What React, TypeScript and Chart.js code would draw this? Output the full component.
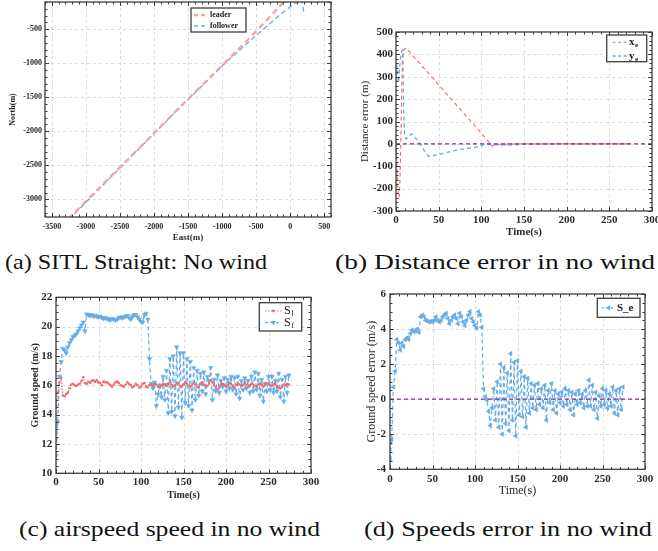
import React, { useEffect, useLayoutEffect, useRef, useState } from 'react';
import { Chart, registerables } from 'chart.js';

Chart.register(...registerables);
const SERIF = '"Liberation Serif", "Times New Roman", Tinos, Times, "Nimbus Roman", "Nimbus Roman No9 L", serif';
Chart.defaults.font.family = SERIF;
Chart.defaults.color = '#2a2a2a';

// ---------------- (a) SITL straight trajectory ----------------
const leaderEast = [-3260, -3000, -2500, -2000, -1500, -1000, -579, -300, -136, -80];
const leaderNorth = [-3290, -3030, -2530, -2030, -1525, -1035, -613, -320, -147, -60];
const followerEast = [200, 185, 165, 130, 60, 0, -150, -300, -579, -1000, -1500, -2000, -2500, -3000, -3280];
const followerNorth = [-240, -150, -60, -90, -130, -170, -290, -420, -662, -1040, -1535, -2035, -2540, -3045, -3330];
const eastTicks = [-3500, -3000, -2500, -2000, -1500, -1000, -500, 0, 500];
const northTicks = [-3000, -2500, -2000, -1500, -1000, -500];

// ---------------- (b) distance error ----------------
const xeTime = [0, 1, 2, 3, 4, 5, 6, 7, 8, 10, 12, 30, 60, 90, 100, 106, 110, 112, 115, 120, 150, 200, 250, 275];
const xeValue = [10, -80, -180, -240, -230, -120, 80, 300, 410, 425, 427, 350, 220, 92, 48, 22, 2, -10, -6, -2, 0, 0, 0, 0];
const yeTime = [0, 1, 2, 3, 4, 5, 6, 7, 8, 9, 10, 12, 15, 18, 22, 28, 33, 38, 45, 52, 60, 70, 80, 90, 98, 104, 110, 120, 130, 140, 150, 200, 250, 275];
const yeValue = [330, 345, 300, 275, 330, 370, 405, 418, 420, 150, 35, 22, 30, 45, 30, 2, -30, -55, -52, -46, -38, -28, -22, -18, -12, 0, -2, -4, -6, -4, -2, 0, 0, 0];
const distTicks = [-300, -200, -100, 0, 100, 200, 300, 400, 500];
const timeTicks = [0, 50, 100, 150, 200, 250, 300];
const zeroTime = [0, 300];
const zeroValue = [0, 0];

// ---------------- (c) ground speeds ----------------
const speedTime = [
  0, 2, 4, 6, 8, 10, 12, 14, 16, 18,
  20, 22, 24, 26, 28, 30, 32, 34, 36, 38,
  40, 42, 44, 46, 48, 50, 52, 54, 56, 58,
  60, 62, 64, 66, 68, 70, 72, 74, 76, 78,
  80, 82, 84, 86, 88, 90, 92, 94, 96, 98,
  100, 102, 104, 106, 108, 110, 112, 114, 116, 118,
  120, 122, 124, 126, 128, 130, 132, 134, 136, 138,
  140, 142, 144, 146, 148, 150, 152, 154, 156, 158,
  160, 162, 164, 166, 168, 170, 172, 174, 176, 178,
  180, 182, 184, 186, 188, 190, 192, 194, 196, 198,
  200, 202, 204, 206, 208, 210, 212, 214, 216, 218,
  220, 222, 224, 226, 228, 230, 232, 234, 236, 238,
  240, 242, 244, 246, 248, 250, 252, 254, 256, 258,
  260, 262, 264, 266, 268, 270, 272, 274,
];
const leaderSpeed = [
  14.6, 15.5, 16.2, 16.5, 15.3, 15.25, 15.4, 15.5, 15.8, 16.05,
  16.1, 16.0, 15.95, 16.05, 16.1, 16.3, 16.55, 16.15, 16.1, 16.25,
  16.15, 16.3, 16.35, 16.25, 16.35, 16.2, 16.15, 16.0, 16.25, 16.2,
  16.2, 16.1, 16.0, 15.9, 16.05, 16.2, 16.25, 16.15, 16.0, 15.95,
  15.9, 16.05, 16.2, 16.1, 16.0, 15.85, 15.95, 16.1, 16.0, 15.85,
  15.9, 16.1, 16.15, 15.9, 15.85, 16.0, 16.05, 15.95, 16.1, 16.05,
  15.9, 15.85, 16.0, 16.1, 16.05, 15.95, 16.1, 16.2, 16.05, 15.95,
  16.0, 16.15, 16.1, 15.95, 15.9, 16.05, 16.2, 16.1, 15.95, 15.9,
  16.0, 16.15, 16.05, 15.9, 15.85, 16.1, 16.2, 16.05, 16.0, 15.95,
  16.1, 16.35, 16.2, 16.0, 15.85, 15.75, 15.9, 16.05, 16.1, 16.0,
  15.9, 16.0, 16.15, 16.1, 15.95, 15.85, 16.0, 16.1, 16.05, 15.95,
  16.0, 16.15, 16.05, 15.9, 16.0, 16.1, 16.05, 15.95, 15.9, 16.05,
  16.1, 16.0, 15.9, 16.05, 16.15, 16.1, 16.0, 15.95, 16.05, 16.1,
  15.95, 15.85, 15.8, 15.9, 16.05, 16.0, 16.1, 16.05,
];
const followerSpeed = [
  11.2, 13.5, 16.6, 17.6, 18.5, 18.4, 18.2, 18.6, 18.9, 19.1,
  19.3, 19.4, 19.5, 19.7, 19.9, 20.1, 20.3, 19.7, 20.85, 20.8,
  20.75, 20.8, 20.7, 20.75, 20.7, 20.65, 20.7, 20.6, 20.55, 20.6,
  20.55, 20.5, 20.45, 20.55, 20.5, 20.45, 20.5, 20.6, 20.65, 20.6,
  20.65, 20.7, 20.75, 20.6, 20.5, 20.7, 20.8, 20.8, 20.65, 20.5,
  20.35, 20.3, 20.8, 20.9, 20.5, 17.8, 16.1, 15.8, 16.2, 14.6,
  15.4, 16.0, 15.2, 16.6, 15.0, 17.0, 14.1, 17.8, 14.2, 18.0,
  13.9, 18.6, 14.5, 18.2, 13.8, 18.2, 14.8, 17.8, 14.6, 17.6,
  14.3, 17.2, 15.0, 17.0, 15.3, 16.8, 15.6, 16.9, 15.4, 16.6,
  16.3, 17.2, 15.0, 16.4, 15.6, 16.7, 15.5, 16.3, 15.9, 16.5,
  15.6, 16.4, 15.8, 16.6, 15.7, 16.5, 15.4, 16.6, 15.1, 16.3,
  15.7, 16.5, 15.8, 16.3, 15.5, 16.6, 15.6, 16.9, 15.7, 16.8,
  15.3, 16.4, 14.9, 16.1, 15.6, 16.6, 15.7, 16.6, 15.5, 16.3,
  15.6, 16.8, 15.2, 16.4, 14.9, 16.6, 15.5, 16.7,
];
const speedTicks = [10, 12, 14, 16, 18, 20, 22];

// ---------------- (d) speed error ----------------
const speedError = [
  -3.4, -2.3, 0.7, 1.6, 3.4, 3.2, 2.8, 3.2, 3.0, 3.4,
  3.5, 3.4, 3.75, 3.95, 3.85, 3.9, 4.0, 3.8, 4.7, 4.8,
  4.7, 4.5, 4.45, 4.4, 4.45, 4.4, 4.5, 4.7, 4.5, 4.4,
  4.5, 4.7, 4.8, 4.9, 4.6, 4.3, 4.5, 4.7, 4.8, 4.6,
  4.3, 4.9, 4.7, 4.4, 4.2, 4.5, 4.8, 5.0, 4.6, 4.4,
  4.2, 4.05, 5.0, 4.8, 4.1, 0.6, 0.15, -0.05, -0.7, -1.5,
  -0.5, 0.6, -1.2, 1.0, -1.6, 2.0, -2.0, 1.8, -1.4, 1.5,
  -1.8, 2.6, -1.2, 2.1, -2.1, 2.2, -0.9, 1.6, -1.0, 1.3,
  -1.6, 1.2, -0.8, 0.9, -0.5, 0.8, -0.6, 0.9, -0.3, 0.6,
  -0.5, 0.8, -1.2, 0.5, -0.2, 0.9, -0.6, 0.5, -0.8, 0.3,
  -0.2, 0.4, -0.4, 0.6, -0.3, 0.5, -0.6, 0.4, -0.9, 0.3,
  -0.3, 0.5, -0.2, 0.3, -0.5, 0.5, -0.4, 1.1, -0.4, 0.8,
  -0.6, 0.4, -1.1, 0.2, -0.4, 0.6, -0.3, 0.5, -0.5, 0.3,
  -0.4, 0.7, -0.8, 0.5, -0.9, 0.6, -0.6, 0.7,
];
const errorTicks = [-4, -2, 0, 2, 4, 6];

// ---------------- styling ----------------
const RED = 'rgb(240,108,108)';
const PINK = 'rgb(246,165,165)';
const BLUE = 'rgb(102,172,228)';
const PURPLE = 'rgb(126,47,142)';
const GRID = 'rgb(215,215,215)';
const FRAME = 'rgb(60,60,60)';

const pts = (xs: number[], ys: number[]) => xs.map((x, i) => ({ x, y: ys[i] }));

function drawMarker(ctx: CanvasRenderingContext2D, kind: string, x: number, y: number, color: string, r: number) {
  ctx.save();
  ctx.setLineDash([]);
  ctx.fillStyle = color;
  ctx.beginPath();
  if (kind === 'dot') {
    ctx.arc(x, y, r, 0, Math.PI * 2);
  } else if (kind === 'down') {
    ctx.moveTo(x - r, y - r * 0.7);
    ctx.lineTo(x + r, y - r * 0.7);
    ctx.lineTo(x, y + r);
  } else if (kind === 'left') {
    ctx.moveTo(x + r * 0.7, y - r);
    ctx.lineTo(x + r * 0.7, y + r);
    ctx.lineTo(x - r, y);
  }
  ctx.closePath();
  ctx.fill();
  ctx.restore();
}

function drawLegend(ctx: CanvasRenderingContext2D, lg: any) {
  ctx.save();
  ctx.setLineDash([]);
  ctx.fillStyle = '#fff';
  ctx.fillRect(lg.x, lg.y, lg.w, lg.h);
  ctx.strokeStyle = FRAME;
  ctx.lineWidth = 1.3;
  ctx.strokeRect(lg.x, lg.y, lg.w, lg.h);
  lg.items.forEach((it: any, i: number) => {
    const cy = lg.y + lg.row0 + i * lg.gap;
    ctx.strokeStyle = it.color;
    ctx.lineWidth = it.width;
    ctx.setLineDash(it.dash);
    ctx.beginPath();
    ctx.moveTo(lg.x + lg.l0, cy);
    ctx.lineTo(lg.x + lg.l1, cy);
    ctx.stroke();
    ctx.setLineDash([]);
    if (it.marker) drawMarker(ctx, it.marker, lg.x + (lg.l0 + lg.l1) / 2, cy, it.color, it.mr);
    ctx.fillStyle = '#1a1a1a';
    ctx.font = lg.font;
    ctx.textBaseline = 'middle';
    ctx.textAlign = 'left';
    ctx.fillText(it.text, lg.x + lg.tx, cy);
    if (it.sub) {
      const tw = ctx.measureText(it.text).width;
      ctx.font = lg.subFont;
      ctx.fillText(it.sub, lg.x + lg.tx + tw + 0.5, cy + lg.subDy);
    }
  });
  ctx.restore();
}

function makeFramePlugin(cfg: any) {
  return {
    id: 'frame',
    beforeDatasetsDraw(chart: any) {
      const { ctx, chartArea: a, scales } = chart;
      ctx.save();
      ctx.strokeStyle = GRID;
      ctx.lineWidth = 0.9;
      ctx.setLineDash([3, 3]);
      ctx.beginPath();
      for (const t of scales.x.ticks) {
        const p = Math.round(scales.x.getPixelForValue(t.value)) + 0.5;
        if (p > a.left + 1 && p < a.right - 1) { ctx.moveTo(p, a.top); ctx.lineTo(p, a.bottom); }
      }
      for (const t of scales.y.ticks) {
        const p = Math.round(scales.y.getPixelForValue(t.value)) + 0.5;
        if (p > a.top + 1 && p < a.bottom - 1) { ctx.moveTo(a.left, p); ctx.lineTo(a.right, p); }
      }
      ctx.stroke();
      ctx.restore();
    },
    afterDraw(chart: any) {
      const { ctx, chartArea: a, scales } = chart;
      ctx.save();
      ctx.setLineDash([]);
      ctx.strokeStyle = FRAME;
      ctx.lineWidth = 1;
      ctx.beginPath();
      const mark = (scale: any, step: number, horiz: boolean) => {
        const k0 = Math.ceil(scale.min / step - 1e-9);
        const k1 = Math.floor(scale.max / step + 1e-9);
        for (let k = k0; k <= k1; k++) {
          const v = k * step;
          const p = Math.round(scale.getPixelForValue(v)) + 0.5;
          const major = scale.ticks.some((t: any) => Math.abs(t.value - v) < step / 10);
          const len = major ? 4 : 2.5;
          if (horiz) {
            ctx.moveTo(p, a.bottom); ctx.lineTo(p, a.bottom - len);
            ctx.moveTo(p, a.top); ctx.lineTo(p, a.top + len);
          } else {
            ctx.moveTo(a.left, p); ctx.lineTo(a.left + len, p);
            ctx.moveTo(a.right, p); ctx.lineTo(a.right - len, p);
          }
        }
      };
      mark(scales.x, cfg.xMinor, true);
      mark(scales.y, cfg.yMinor, false);
      ctx.stroke();
      ctx.lineWidth = 1.3;
      ctx.strokeRect(a.left, a.top, a.right - a.left, a.bottom - a.top);
      if (cfg.legend) drawLegend(ctx, cfg.legend);
      ctx.restore();
    },
  };
}

function axis(o: any, horiz: boolean) {
  return {
    type: 'linear',
    min: o.min,
    max: o.max,
    afterBuildTicks: (s: any) => { s.ticks = o.ticks.map((v: number) => ({ value: v })); },
    afterFit: (s: any) => {
      if (horiz) s.height = o.size; else s.width = o.size;
      s.paddingTop = 0; s.paddingBottom = 0; s.paddingLeft = 0; s.paddingRight = 0;
    },
    grid: { display: false, drawTicks: false },
    border: { display: false },
    ticks: {
      font: o.tickFont,
      color: '#2a2a2a',
      padding: o.tickPad,
      maxRotation: 0,
      minRotation: 0,
      autoSkip: false,
      callback: (v: any) => String(v),
    },
    title: { display: true, text: o.title, font: o.titleFont, color: '#2a2a2a', padding: o.titlePad },
  };
}

function PlotCanvas({ spec }: { spec: any }) {
  const ref = useRef<HTMLCanvasElement>(null);
  useEffect(() => {
    const chart = new Chart(ref.current as HTMLCanvasElement, {
      type: 'scatter',
      data: { datasets: spec.datasets },
      options: {
        animation: false,
        responsive: false,
        maintainAspectRatio: false,
        devicePixelRatio: 1,
        events: [],
        layout: { padding: spec.pad },
        plugins: { legend: { display: false }, tooltip: { enabled: false } },
        scales: { x: axis(spec.x, true), y: axis(spec.y, false) } as any,
      },
      plugins: [makeFramePlugin(spec.frame)],
    } as any);
    return () => chart.destroy();
  }, []);
  return (
    <canvas
      ref={ref}
      width={spec.box.w}
      height={spec.box.h}
      style={{ position: 'absolute', left: spec.box.x, top: spec.box.y, width: spec.box.w, height: spec.box.h }}
    />
  );
}

function Caption({ text, left, right, cy, size }: any) {
  const [sx, setSx] = useState(1);
  useLayoutEffect(() => {
    const c = document.createElement('canvas').getContext('2d') as CanvasRenderingContext2D;
    c.font = `${size}px ${SERIF}`;
    const w = c.measureText(text).width;
    if (w > 0) setSx((right - left) / w);
  }, []);
  return (
    <div
      style={{
        position: 'absolute', left, top: cy - size * 0.583, fontFamily: SERIF, fontSize: size,
        lineHeight: `${size}px`, whiteSpace: 'nowrap', color: '#111',
        transform: `scaleX(${sx})`, transformOrigin: 'left top',
      }}
    >
      {text}
    </div>
  );
}

const bold = (size: number) => ({ family: SERIF, size, weight: 'bold' });
const reg = (size: number) => ({ family: SERIF, size, weight: 'normal' });

const specA = {
  box: { x: 0, y: 0, w: 340, h: 245 },
  pad: { top: 2, right: 9, left: 0, bottom: 0 },
  x: { min: -3600, max: 600, ticks: eastTicks, size: 28, tickFont: bold(8), tickPad: 5, title: 'East(m)', titleFont: bold(9), titlePad: { top: 0, bottom: 2 } },
  y: { min: -3260, max: -100, ticks: northTicks, size: 45, tickFont: bold(8), tickPad: 3, title: 'North(m)', titleFont: bold(8), titlePad: { top: 8, bottom: 0 } },
  datasets: [
    { data: pts(leaderEast, leaderNorth), showLine: true, borderColor: PINK, borderWidth: 2.4, borderDash: [6, 4], pointRadius: 0, fill: false },
    { data: pts(followerEast, followerNorth), showLine: true, borderColor: BLUE, borderWidth: 1.3, borderDash: [5, 3], pointRadius: 0, fill: false },
  ],
  frame: {
    xMinor: 100, yMinor: 100,
    legend: {
      x: 191, y: 8, w: 55, h: 24, row0: 7, gap: 11, l0: 3, l1: 16, tx: 19,
      font: `bold 8px ${SERIF}`, subFont: `bold 6px ${SERIF}`, subDy: 2,
      items: [
        { text: 'leader', color: PINK, width: 2.4, dash: [4, 3] },
        { text: 'follower', color: BLUE, width: 1.3, dash: [4, 3] },
      ],
    },
  },
};

const specB = {
  box: { x: 340, y: 20, w: 318, h: 220 },
  pad: { top: 12, right: 6, left: 0, bottom: 0 },
  x: { min: 0, max: 300, ticks: timeTicks, size: 29, tickFont: bold(11), tickPad: 2.4, title: 'Time(s)', titleFont: bold(11), titlePad: { top: 0, bottom: 1.7 } },
  y: { min: -300, max: 500, ticks: distTicks, size: 56, tickFont: bold(11), tickPad: 3, title: 'Distance error (m)', titleFont: reg(11), titlePad: { top: 18.4, bottom: 0 } },
  datasets: [
    { data: pts(zeroTime, zeroValue), showLine: true, borderColor: PURPLE, borderWidth: 1.1, borderDash: [4, 3], pointRadius: 0 },
    { data: pts(xeTime, xeValue), showLine: true, borderColor: RED, borderWidth: 1.1, borderDash: [4, 3], pointRadius: 0 },
    { data: pts(yeTime, yeValue), showLine: true, borderColor: BLUE, borderWidth: 1.3, borderDash: [4, 3], pointRadius: 0 },
  ],
  frame: {
    xMinor: 10, yMinor: 20,
    legend: {
      x: 266.7, y: 15, w: 40, h: 26.7, row0: 7.3, gap: 13.7, l0: 6, l1: 20.6, tx: 22.3,
      font: `bold 11px ${SERIF}`, subFont: `bold 7px ${SERIF}`, subDy: 3,
      items: [
        { text: 'x', sub: 'e', color: RED, width: 1.1, dash: [3, 2.5] },
        { text: 'y', sub: 'e', color: BLUE, width: 1.3, dash: [3, 2.5] },
      ],
    },
  },
};

const specC = {
  box: { x: 0, y: 285, w: 330, h: 220 },
  pad: { top: 12.3, right: 19, left: 0, bottom: 0 },
  x: { min: 0, max: 300, ticks: timeTicks, size: 31.7, tickFont: bold(11), tickPad: 2.1, title: 'Time(s)', titleFont: bold(10), titlePad: { top: 0, bottom: 4 } },
  y: { min: 10, max: 22, ticks: speedTicks, size: 56, tickFont: bold(11), tickPad: 3.7, title: 'Ground speed (m/s)', titleFont: bold(10), titlePad: { top: 29, bottom: 0 } },
  datasets: [
    { data: pts(speedTime, leaderSpeed), showLine: true, borderColor: RED, borderWidth: 1.2, borderDash: [1.5, 1.5], pointStyle: 'circle', pointRadius: 1.3, pointBackgroundColor: RED, pointBorderColor: RED, pointBorderWidth: 0 },
    { data: pts(speedTime, followerSpeed), showLine: true, borderColor: BLUE, borderWidth: 1.2, borderDash: [4, 3], pointStyle: 'triangle', rotation: 180, pointRadius: 2.6, pointBackgroundColor: BLUE, pointBorderColor: BLUE, pointBorderWidth: 0.5 },
  ],
  frame: {
    xMinor: 10, yMinor: 0.5,
    legend: {
      x: 259.3, y: 17.7, w: 42.4, h: 28.3, row0: 8.3, gap: 11.7, l0: 5.7, l1: 22.4, tx: 24.7,
      font: `12px ${SERIF}`, subFont: `8px ${SERIF}`, subDy: 3,
      items: [
        { text: 'S', sub: 'l', color: RED, width: 1.2, dash: [1.5, 1.5], marker: 'dot', mr: 1.4 },
        { text: 'S', sub: 'f', color: BLUE, width: 1.2, dash: [3, 2.5], marker: 'down', mr: 2.6 },
      ],
    },
  },
};

const specD = {
  box: { x: 340, y: 285, w: 318, h: 220 },
  pad: { top: 9, right: 13, left: 0, bottom: 0 },
  x: { min: 0, max: 300, ticks: timeTicks, size: 35.7, tickFont: bold(11), tickPad: 3.4, title: 'Time(s)', titleFont: reg(12), titlePad: { top: 0, bottom: 7.1 } },
  y: { min: -4, max: 6, ticks: errorTicks, size: 50, tickFont: bold(11), tickPad: 4, title: 'Ground speed error (m/s)', titleFont: reg(12), titlePad: { top: 24.5, bottom: 0 } },
  datasets: [
    { data: pts(zeroTime, zeroValue), showLine: true, borderColor: PURPLE, borderWidth: 1.2, borderDash: [4, 3], pointRadius: 0 },
    { data: pts(speedTime, speedError), showLine: true, borderColor: BLUE, borderWidth: 1.2, borderDash: [4, 3], pointStyle: 'triangle', rotation: 270, pointRadius: 2.6, pointBackgroundColor: BLUE, pointBorderColor: BLUE, pointBorderWidth: 0.5 },
  ],
  frame: {
    xMinor: 10, yMinor: 0.5,
    legend: {
      x: 257.3, y: 13.3, w: 42.7, h: 19, row0: 9.5, gap: 0, l0: 4.4, l1: 17.7, tx: 19.7,
      font: `bold 11px ${SERIF}`, subFont: `bold 7px ${SERIF}`, subDy: 3,
      items: [
        { text: 'S_e', color: BLUE, width: 1.2, dash: [2.5, 2], marker: 'left', mr: 2.6 },
      ],
    },
  },
};

export default function App() {
  return (
    <div style={{ position: 'absolute', left: 0, top: 0, width: 658, height: 551, background: '#fff', overflow: 'hidden' }}>
      <PlotCanvas spec={specA} />
      <PlotCanvas spec={specB} />
      <PlotCanvas spec={specC} />
      <PlotCanvas spec={specD} />
      <Caption text="(a) SITL Straight: No wind" left={5} right={268} cy={264} size={21} />
      <Caption text="(b) Distance error in no wind" left={335} right={655} cy={264} size={21} />
      <Caption text="(c) airspeed speed in no wind" left={19} right={320} cy={531} size={21} />
      <Caption text="(d) Speeds error in no wind" left={364} right={652} cy={531} size={21} />
    </div>
  );
}
